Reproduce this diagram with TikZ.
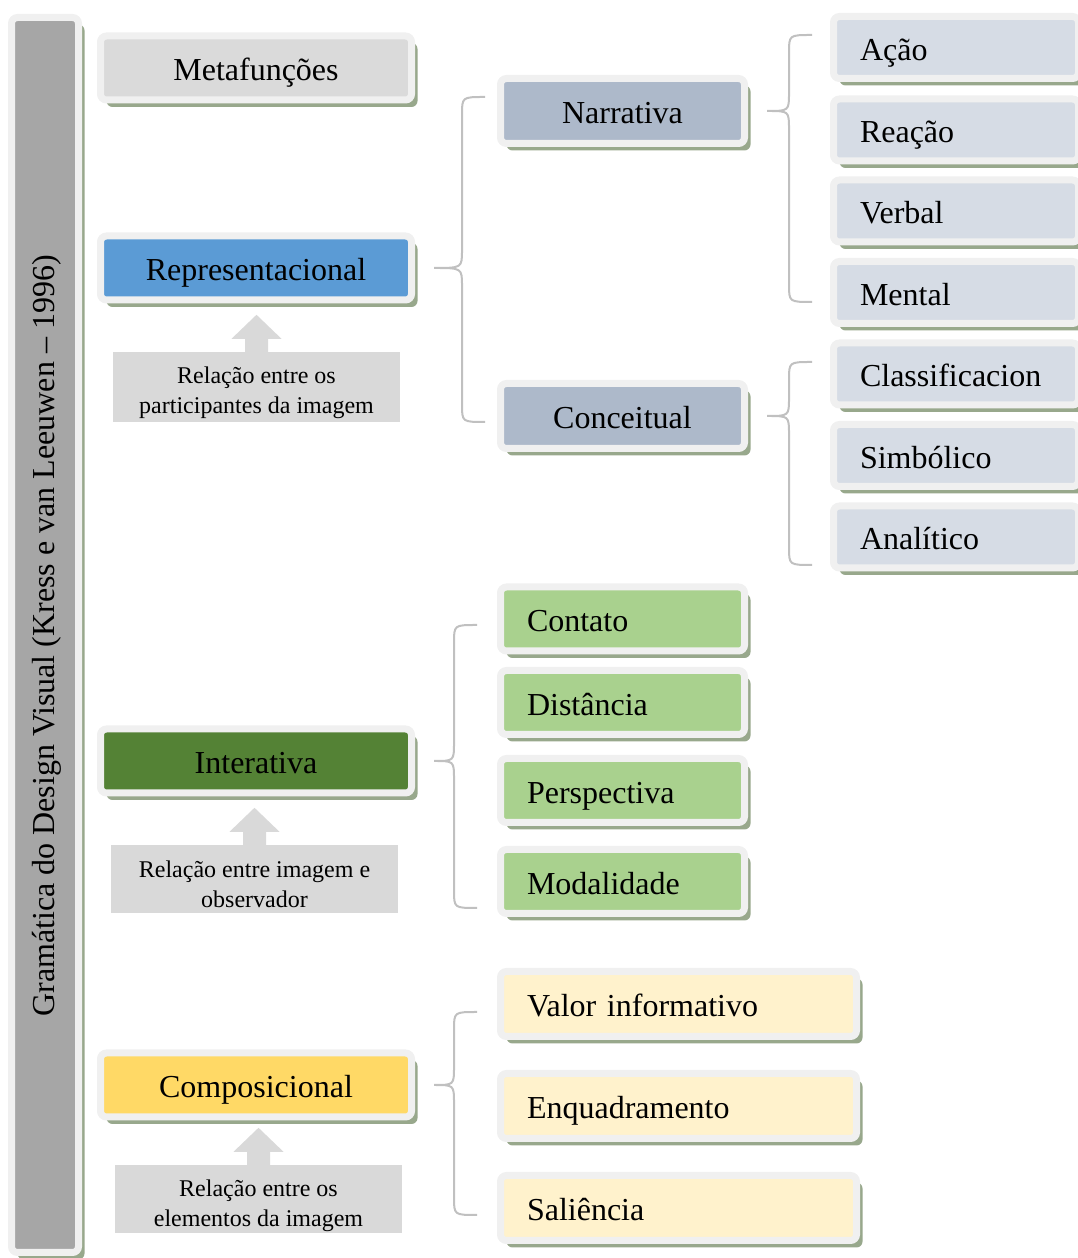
\documentclass[tikz,border=0pt]{standalone}
\usepackage{fontspec}
\setmainfont{Liberation Serif}
\usetikzlibrary{shadows,calc}

\definecolor{frm}{HTML}{F0F0F0}
\definecolor{shd}{RGB}{152,168,140}
\definecolor{barc}{HTML}{A6A6A6}
\definecolor{metac}{HTML}{DADADA}
\definecolor{repc}{HTML}{5B9BD5}
\definecolor{intc}{HTML}{548235}
\definecolor{compc}{HTML}{FFD966}
\definecolor{narc}{HTML}{ADB9CA}
\definecolor{subc}{HTML}{D6DCE5}
\definecolor{grnc}{HTML}{A9D18E}
\definecolor{yelc}{HTML}{FFF2CC}
\definecolor{notec}{HTML}{D9D9D9}
\definecolor{brcc}{HTML}{C0C0C0}

\tikzset{
  bx/.style={draw=frm, line width=7pt, rounded corners=6pt, inner sep=0pt,
    drop shadow={shadow xshift=6pt, shadow yshift=-7pt, fill=shd, opacity=1},
    font=\fontsize{32}{38}\selectfont, text height=32pt, text depth=6pt, align=center},
  lbox/.style={bx, fill=#1, minimum width=311pt, minimum height=64pt},
  mbox/.style={bx, fill=narc, minimum width=244pt, minimum height=65pt},
  rbox/.style={bx, fill=subc, align=left, inner xsep=26.5pt, text width=192pt, minimum height=62pt},
  gbox/.style={bx, fill=grnc, align=left, inner xsep=26.5pt, text width=191pt, minimum height=64pt},
  ybox/.style={bx, fill=yelc, align=left, inner xsep=26.5pt, text width=303pt, minimum height=65pt},
  note/.style={fill=notec, inner sep=0pt},
  notetxt/.style={anchor=base, align=center, inner sep=0pt, font=\fontsize{24}{30}\selectfont},
  arr/.style={fill=notec},
  brc/.style={draw=brcc, line width=2pt}
}

% chave: no pai, ponta de cima, ponta de baixo
\newcommand{\curlybr}[3]{%
  \draw[brc] let \p0=(#1.east), \p1=(#2), \p2=(#3) in
    (\p1) .. controls (\x1-23pt,\y1) .. (\x1-23pt,\y1-18pt)
    -- (\x1-23pt,\y0+18pt) .. controls (\x1-23pt,\y0) .. (\x0+19pt,\y0)
    .. controls (\x1-23pt,\y0) .. (\x1-23pt,\y0-18pt)
    -- (\x1-23pt,\y2+18pt) .. controls (\x1-23pt,\y2) .. (\p2);}

\begin{document}
\begin{tikzpicture}[x=1pt,y=1pt]
\useasboundingbox (0,0) rectangle (1078,1258);

     %Barra lateral
     \node[bx, fill=barc, minimum width=67pt, minimum height=1235pt] (bar) at (45,623) {};
     \node[rotate=90, font=\fontsize{32}{38}\selectfont] (titulo) at (47,622) {Gramática do Design Visual (Kress e van Leeuwen – 1996)};

     %Metafuncoes
     \node[lbox=metac] (meta)  at (256,1190) {Metafunções};
     \node[lbox=repc]  (repr)  at (256,990)  {Representacional};
     \node[lbox=intc]  (inter) at (256,497)  {Interativa};
     \node[lbox=compc] (comp)  at (256,173)  {Composicional};

     %Notas
     \node[note, minimum width=287pt, minimum height=70pt] (n1) at (256.5,871) {};
     \fill[arr] ($(n1.north)+(-11.5,0)$) -- ++(0,13) -- ++(-13.5,0) -- ($(n1.north)+(0,37)$) -- ++(25,-24) -- ++(-13.5,0) -- ++(0,-13) -- cycle;
     \node[notetxt] (t1) at ([yshift=-62pt]n1.north) {Relação entre os\\participantes da imagem};

     \node[note, minimum width=287pt, minimum height=68pt] (n2) at (254.5,379) {};
     \fill[arr] ($(n2.north)+(-11.5,0)$) -- ++(0,13) -- ++(-13.5,0) -- ($(n2.north)+(0,37)$) -- ++(25,-24) -- ++(-13.5,0) -- ++(0,-13) -- cycle;
     \node[notetxt] (t2) at ([yshift=-63pt]n2.north) {Relação entre imagem e\\observador};

     \node[note, minimum width=287pt, minimum height=68pt] (n3) at (258.5,59) {};
     \fill[arr] ($(n3.north)+(-11.5,0)$) -- ++(0,13) -- ++(-13.5,0) -- ($(n3.north)+(0,37)$) -- ++(25,-24) -- ++(-13.5,0) -- ++(0,-13) -- cycle;
     \node[notetxt] (t3) at ([yshift=-62pt]n3.north) {Relação entre os\\elementos da imagem};

     %Representacional
     \node[mbox] (narr) at (622.5,1147) {Narrativa};
     \node[mbox] (conc) at (622.5,842)  {Conceitual};
     \node[rbox] (acao)    at (956,1210.5) {Ação};
     \node[rbox] (reacao)  at (956,1128)   {Reação};
     \node[rbox] (verbal)  at (956,1047)   {Verbal};
     \node[rbox] (mental)  at (956,965.5)  {Mental};
     \node[rbox] (classif) at (956,884)    {Classificacion};
     \node[rbox] (simb)    at (956,802.5)  {Simbólico};
     \node[rbox] (anal)    at (956,721)    {Analítico};

     %Interativa
     \node[gbox] (contato) at (622.5,639)   {Contato};
     \node[gbox] (dist)    at (622.5,555.5) {Distância};
     \node[gbox] (persp)   at (622.5,467.5) {Perspectiva};
     \node[gbox] (modal)   at (622.5,376.5) {Modalidade};

     %Composicional
     \node[ybox] (valor) at (678.5,254) {Valor informativo};
     \node[ybox] (enq)   at (678.5,152) {Enquadramento};
     \node[ybox] (sal)   at (678.5,50)  {Saliência};

     %Chaves
     \coordinate (b1t) at (485,1161); \coordinate (b1b) at (485,836);
     \coordinate (b2t) at (812,1223); \coordinate (b2b) at (812,956);
     \coordinate (b3t) at (812,896);  \coordinate (b3b) at (812,693);
     \coordinate (b4t) at (477,633);  \coordinate (b4b) at (477,350);
     \coordinate (b5t) at (477,246);  \coordinate (b5b) at (477,43);
     \curlybr{repr}{b1t}{b1b}
     \curlybr{narr}{b2t}{b2b}
     \curlybr{conc}{b3t}{b3b}
     \curlybr{inter}{b4t}{b4b}
     \curlybr{comp}{b5t}{b5b}

\end{tikzpicture}
\end{document}
